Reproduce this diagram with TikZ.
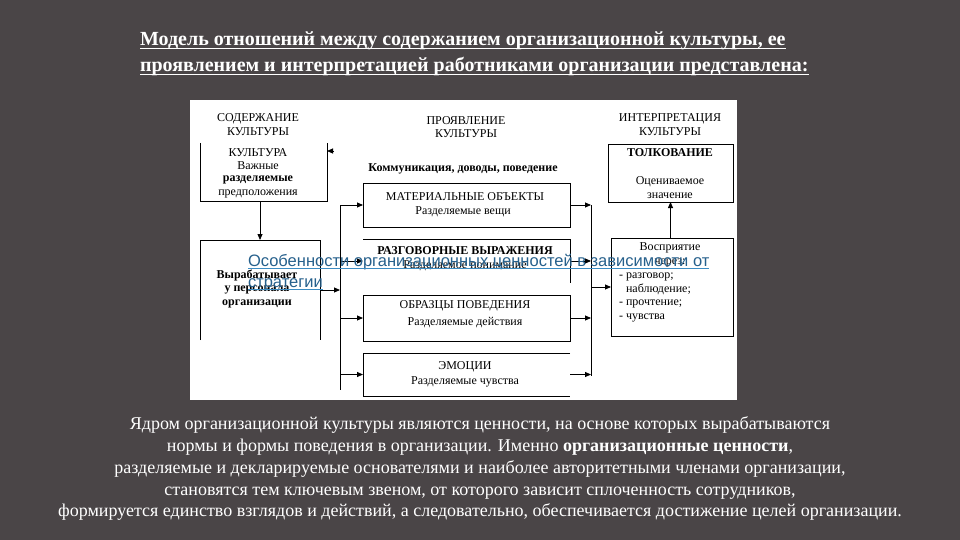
\documentclass[tikz,border=0pt]{standalone}
\usepackage{fontspec}
\setmainfont{Liberation Serif}
\newfontfamily\linkfont{Liberation Sans}
\usetikzlibrary{arrows.meta}
\definecolor{bg}{RGB}{74,69,71}
\definecolor{linkblue}{RGB}{38,96,140}
\definecolor{ulblue}{RGB}{60,140,195}
\begin{document}
\begin{tikzpicture}[x=1pt,y=-1pt,
  every node/.style={inner sep=0pt, outer sep=0pt},
  dtxt/.style={font=\fontsize{12}{13.5}\selectfont, text=black, align=center},
  dbold/.style={dtxt, font=\fontsize{12}{13.5}\selectfont\bfseries},
  frame/.style={black, line width=0.8pt},
  arr/.style={black, line width=0.8pt, -{Triangle[length=6pt,width=5pt]}},
  titletxt/.style={text=white, font=\fontsize{20}{24}\selectfont\bfseries, anchor=base west},
  bodytxt/.style={text=white, font=\fontsize{18}{22}\selectfont, anchor=base},
  linktxt/.style={text=linkblue, font=\linkfont\fontsize{16.5}{20}\selectfont, anchor=base west}]
\fill[bg] (0,0) rectangle (960,540);
\useasboundingbox (0,0) rectangle (960,540);
\fill[white] (190,100) rectangle (737,400);

% title
\node[titletxt] (ti1) at (140,46) {Модель отношений между содержанием организационной культуры, ее};
\node[titletxt] (ti2) at (140,72) {проявлением и интерпретацией работниками организации представлена:};
\draw[white, line width=1.3pt] ([yshift=-2.5pt]ti1.base west) -- ([yshift=-2.5pt]ti1.base east);
\draw[white, line width=1.3pt] ([yshift=-2.5pt]ti2.base west) -- ([yshift=-2.5pt]ti2.base east);

% box areas
\node[minimum width=127pt, minimum height=58pt] (b1) at (263.5,172) {};
\node[minimum width=120pt, minimum height=100pt] (b2) at (260,290) {};
\node[minimum width=207pt, minimum height=44pt] (mat) at (466.5,205) {};
\node[minimum width=207pt, minimum height=44pt] (raz) at (466.5,261) {};
\node[minimum width=207pt, minimum height=46pt] (obr) at (466.5,318) {};
\node[minimum width=207pt, minimum height=43pt] (emo) at (466.5,374.5) {};
\node[minimum width=125pt, minimum height=58pt] (tolk) at (670.5,173) {};
\node[minimum width=122pt, minimum height=98pt] (vos) at (672,287) {};

% frames
\draw[frame] (b1.north west) -- (b1.south west) -- (b1.south east) -- (b1.north east);
\draw[frame] (b2.south west) -- (b2.north west) -- (b2.north east) -- (b2.south east);
\draw[frame] (mat.north west) rectangle (mat.south east);
\draw[frame] (raz.north west) -- (raz.north east) -- (raz.south east);
\draw[frame] (obr.north west) rectangle (obr.south east);
\draw[frame] (emo.north east) -- (emo.north west) -- (emo.south west) -- (emo.south east);
\draw[frame] (tolk.north west) rectangle (tolk.south east);
\draw[frame] (vos.north west) rectangle (vos.south east);

% headers
\node[dtxt] (h1) at (258,124.5) {СОДЕРЖАНИЕ\\КУЛЬТУРЫ};
\node[dtxt] (h2) at (466,127) {ПРОЯВЛЕНИЕ\\КУЛЬТУРЫ};
\node[dtxt] (h3) at (670,124.5) {ИНТЕРПРЕТАЦИЯ\\КУЛЬТУРЫ};
\node[dbold] (komm) at (463,169) {Коммуникация, доводы, поведение};

% box texts
\node[dtxt] (b1a) at (258,153) {КУЛЬТУРА};
\node[dtxt] (b1b) at (258,166) {Важные};
\node[dbold] (b1c) at (258,180) {разделяемые};
\node[dtxt] (b1d) at (258,194) {предположения};
\node[dbold] (b2a) at (257,288.5) {Вырабатывает\\у персонала\\организации};
\node[dtxt] (mata) at (465,197) {МАТЕРИАЛЬНЫЕ ОБЪЕКТЫ};
\node[dtxt] (matb) at (463,212) {Разделяемые вещи};
\node[dbold] (raza) at (465,251) {РАЗГОВОРНЫЕ ВЫРАЖЕНИЯ};
\node[dtxt] (razb) at (465,266) {Разделяемое понимание};
\node[dtxt] (obra) at (465,306) {ОБРАЗЦЫ ПОВЕДЕНИЯ};
\node[dtxt] (obrb) at (465,323) {Разделяемые действия};
\node[dtxt] (emoa) at (465,367) {ЭМОЦИИ};
\node[dtxt] (emob) at (465,382) {Разделяемые чувства};
\node[dbold] (tolka) at (670,153) {ТОЛКОВАНИЕ};
\node[dtxt] (tolkb) at (670,187.5) {Оцениваемое\\значение};
\node[dtxt] (vosa) at (670,255) {Восприятие\\через:};
\node[dtxt, align=left, anchor=north west] (vosb) at (619,273) {- разговор;\\\phantom{- }наблюдение;\\- прочтение;\\- чувства};

% buses
\coordinate (lbT) at (340,205);
\coordinate (lbB) at (340,390);
\coordinate (rbT) at (591,205);
\coordinate (rbB) at (591,376);
\coordinate (stub) at (334,151);

% connectors
\draw[arr] (stub) -- (stub -| b1.east);
\draw[arr] (b2.north |- b1.south) -- (b2.north);
\draw[arr] (b2.east) -- (b2.east -| lbT);
\draw[frame] (lbT) -- (lbB);
\draw[arr] (lbT) -- (mat.west);
\draw[arr] (lbT |- raz.west) -- (raz.west);
\draw[arr] (lbT |- obr.west) -- (obr.west);
\draw[arr] (lbT |- emo.west) -- (emo.west);
\draw[frame] (rbT) -- (rbB);
\draw[arr] (mat.east) -- (rbT);
\draw[arr] (raz.east) -- (raz.east -| rbT);
\draw[arr] (obr.east) -- (obr.east -| rbT);
\draw[arr] (emo.east) -- (emo.east -| rbT);
\draw[arr] (rbT |- vos.west) -- (vos.west);
\draw[arr] (vos.north -| tolk.south) -- (tolk.south);

% overlay link text
\node[linktxt] (lk1) at (248,266) {Особенности организационных ценностей в зависимости от};
\node[linktxt] (lk2) at (248,287) {стратегии};
\draw[ulblue, line width=1.4pt] ([yshift=-2.5pt]lk1.base west) -- ([yshift=-2.5pt]lk1.base east);
\draw[ulblue, line width=1.4pt] ([yshift=-2.5pt]lk2.base west) -- ([yshift=-2.5pt]lk2.base east);

% body text
\node[bodytxt] (p1) at (480,429) {Ядром организационной культуры являются ценности, на основе которых вырабатываются};
\node[bodytxt] (p2) at (480,451) {нормы и формы поведения в организации. Именно \textbf{организационные ценности},};
\node[bodytxt] (p3) at (480,473) {разделяемые и декларируемые основателями и наиболее авторитетными членами организации,};
\node[bodytxt] (p4) at (480,495) {становятся тем ключевым звеном, от которого зависит сплоченность сотрудников,};
\node[bodytxt] (p5) at (480,516) {формируется единство взглядов и действий, а следовательно, обеспечивается достижение целей организации.};
\end{tikzpicture}
\end{document}
